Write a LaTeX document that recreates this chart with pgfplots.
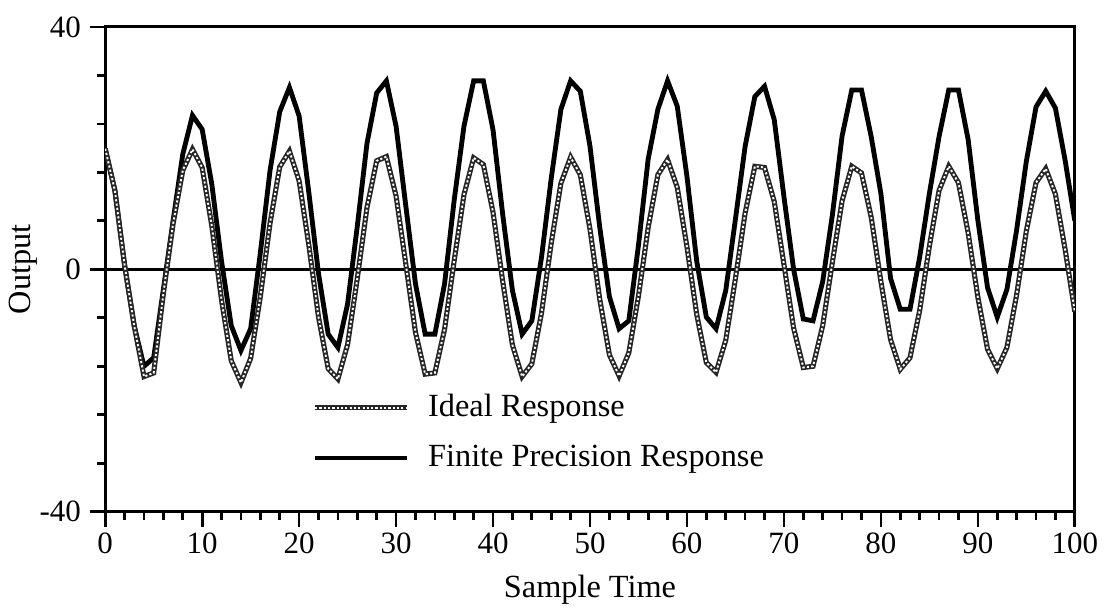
\documentclass[border=0pt]{standalone}
\usepackage{fontspec}
\setmainfont{Liberation Serif}
\usepackage{pgfplots}
\usepackage{pgfplotstable}
\pgfplotsset{compat=1.18}

% sample, ideal response, finite precision response
\pgfplotstableread{
n ideal finite
0 19.9 19.9
1 13.0 13.0
2 0.7 0.7
3 -9.4 -9.4
4 -17.7 -16.0
5 -17.1 -14.6
6 -4.0 -3.3
7 7.5 8.0
8 16.3 19.0
9 19.8 25.4
10 16.8 23.1
11 7.1 14.0
12 -5.1 1.3
13 -15.1 -9.3
14 -18.7 -13.4
15 -14.7 -9.8
16 -4.5 2.7
17 7.6 16.3
18 16.9 26.0
19 19.5 30.0
20 14.6 25.3
21 4.0 12.7
22 -7.9 -0.7
23 -16.4 -10.7
24 -18.1 -12.9
25 -12.4 -5.7
26 -1.5 7.1
27 10.2 20.8
28 17.9 29.1
29 18.6 31.1
30 12.1 23.6
31 0.9 10.5
32 -10.4 -2.4
33 -17.3 -10.7
34 -17.1 -10.7
35 -9.9 -2.4
36 1.5 11.5
37 12.3 23.6
38 18.4 31.1
39 17.3 31.1
40 9.4 23.0
41 -2.0 9.0
42 -12.5 -3.5
43 -17.7 -10.7
44 -15.6 -8.5
45 -7.2 2.0
46 4.3 15.0
47 14.2 26.4
48 18.5 31.1
49 15.6 29.4
50 6.6 20.3
51 -4.9 7.0
52 -14.1 -4.5
53 -17.6 -9.8
54 -13.8 -8.5
55 -4.4 4.0
56 6.9 18.2
57 15.6 26.4
58 18.1 31.1
59 13.5 26.9
60 3.7 15.3
61 -7.4 1.4
62 -15.4 -7.9
63 -17.0 -9.8
64 -11.7 -3.5
65 -1.5 8.3
66 9.3 20.3
67 17.0 28.5
68 16.8 30.2
69 11.2 24.7
70 0.8 12.0
71 -9.7 0.0
72 -16.2 -8.2
73 -16.0 -8.5
74 -9.3 -2.0
75 1.2 9.0
76 11.3 22.0
77 17.0 29.6
78 15.9 29.6
79 8.6 21.9
80 -2.0 12.5
81 -11.6 -1.5
82 -16.5 -6.6
83 -14.6 -6.6
84 -6.8 2.0
85 3.8 12.5
86 13.0 21.9
87 17.0 29.6
88 14.3 29.6
89 6.0 21.4
90 -4.6 8.1
91 -13.2 -3.0
92 -16.4 -7.9
93 -12.9 -3.3
94 -4.2 6.5
95 6.3 17.8
96 14.3 26.8
97 16.6 29.4
98 12.4 26.6
99 3.3 18.0
100 -7.0 8.0
}\datatable

\begin{document}
\begin{tikzpicture}
\begin{axis}[
    name=main,
    width=360pt, height=180pt, scale only axis,
    xmin=0, xmax=100, ymin=-40, ymax=40,
    axis line style={line width=1.1pt},
    xtick={0,10,...,100}, minor x tick num=4,
    ytick={-40,0,40}, yticklabels={-40,0,40},
    minor ytick={-32,-24,-16,-8,8,16,24,32},
    xtick pos=bottom, ytick pos=left, tick align=outside,
    major tick length=5.5pt, minor tick length=3pt,
    every tick/.style={black, line width=1pt},
    /pgf/number format/assume math mode=true,
    font=\fontsize{12}{14}\selectfont,
    tick label style={font=\fontsize{11.5}{14}\selectfont},
    xticklabel style={yshift=1pt},
    xlabel={Sample Time}, ylabel={Output},
    xlabel style={yshift=-1pt},
    ylabel style={yshift=-6pt},
    reverse legend,
    legend cell align=left,
    legend style={draw=none, fill=none, at={(0.205,0.265)}, anchor=north west,
        row sep=5pt, font=\fontsize{12}{14}\selectfont},
    legend image code/.code={\draw[#1] (0pt,0pt) -- (34pt,0pt); \path (39pt,0pt);},
]
\addplot[black, line width=1.1pt, forget plot] coordinates {(0,0) (100,0)};
\addplot[black, line width=1.8pt] table[x=n, y=finite] {\datatable};
\addlegendentry{Finite Precision Response}
\addplot[white, line width=0.7pt, dash pattern=on 0.8pt off 0.8pt,
    preaction={draw=black!85, solid, line width=1.9pt}] table[x=n, y=ideal] {\datatable};
\addlegendentry{Ideal Response}
\end{axis}
\path (main.north) ++(0,10pt);
\end{tikzpicture}
\end{document}
